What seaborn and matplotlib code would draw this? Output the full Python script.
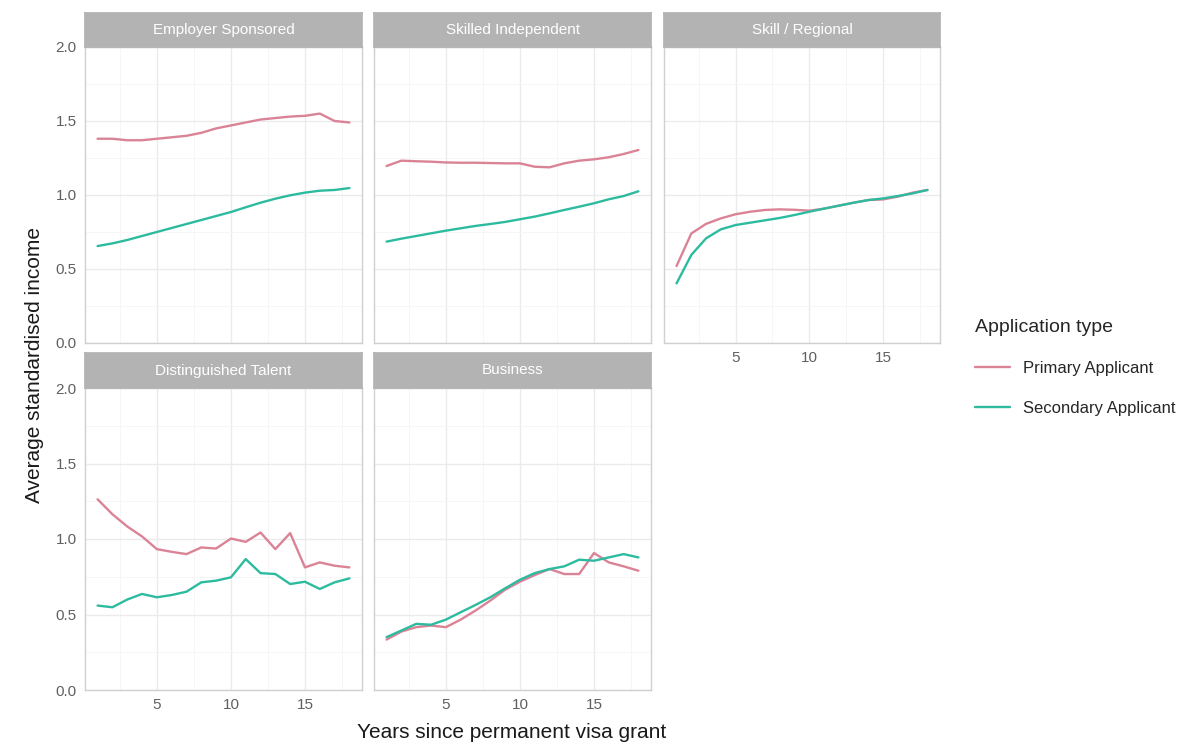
import matplotlib
matplotlib.use("Agg")
import matplotlib.pyplot as plt
import numpy as np
import pandas as pd
import seaborn as sns
from matplotlib.ticker import MultipleLocator, FormatStrFormatter, NullFormatter

# ---------------- data ----------------
years = list(range(1, 19))
panels = ["Employer Sponsored", "Skilled Independent", "Skill / Regional",
          "Distinguished Talent", "Business"]
app_types = ["Primary Applicant", "Secondary Applicant"]

emp_primary = [1.38, 1.38, 1.37, 1.37, 1.38, 1.39, 1.40, 1.42, 1.45, 1.47,
               1.49, 1.51, 1.52, 1.53, 1.535, 1.55, 1.50, 1.49]
emp_secondary = [0.655, 0.673, 0.696, 0.723, 0.75, 0.777, 0.804, 0.831, 0.858, 0.885,
                 0.917, 0.948, 0.975, 0.998, 1.016, 1.029, 1.034, 1.047]

ski_primary = [1.196, 1.232, 1.228, 1.225, 1.22, 1.218, 1.218, 1.216, 1.214, 1.214,
               1.191, 1.187, 1.214, 1.232, 1.241, 1.255, 1.277, 1.304]
ski_secondary = [0.685, 0.705, 0.723, 0.741, 0.759, 0.775, 0.791, 0.804, 0.818, 0.836,
                 0.854, 0.876, 0.899, 0.921, 0.944, 0.971, 0.993, 1.025]

reg_primary = [0.52, 0.74, 0.805, 0.842, 0.870, 0.887, 0.899, 0.903, 0.90, 0.894,
               0.908, 0.928, 0.948, 0.966, 0.970, 0.989, 1.016, 1.034]
reg_secondary = [0.403, 0.595, 0.707, 0.768, 0.797, 0.813, 0.829, 0.845, 0.865, 0.887,
                 0.908, 0.928, 0.948, 0.966, 0.977, 0.993, 1.011, 1.034]

dt_primary = [1.263, 1.164, 1.083, 1.017, 0.933, 0.915, 0.90, 0.944, 0.937, 1.003,
              0.981, 1.043, 0.933, 1.039, 0.812, 0.845, 0.823, 0.812]
dt_secondary = [0.559, 0.548, 0.599, 0.636, 0.614, 0.629, 0.651, 0.713, 0.724, 0.746,
                0.867, 0.774, 0.768, 0.702, 0.717, 0.669, 0.713, 0.739]

bus_primary = [0.334, 0.387, 0.416, 0.427, 0.416, 0.466, 0.526, 0.592, 0.664, 0.717,
               0.761, 0.801, 0.768, 0.768, 0.907, 0.845, 0.819, 0.790]
bus_secondary = [0.350, 0.394, 0.438, 0.432, 0.466, 0.515, 0.563, 0.614, 0.673, 0.730,
                 0.774, 0.801, 0.819, 0.863, 0.856, 0.878, 0.900, 0.878]

series = {
    panels[0]: (emp_primary, emp_secondary),
    panels[1]: (ski_primary, ski_secondary),
    panels[2]: (reg_primary, reg_secondary),
    panels[3]: (dt_primary, dt_secondary),
    panels[4]: (bus_primary, bus_secondary),
}

rows = []
for p, (prim, sec) in series.items():
    for y, v in zip(years, prim):
        rows.append((p, app_types[0], y, v))
    for y, v in zip(years, sec):
        rows.append((p, app_types[1], y, v))
df = pd.DataFrame(rows, columns=["panel", "type", "year", "income"])

# ---------------- style ----------------
sns.set_theme(style="white")
plt.rcParams["font.family"] = ["Liberation Sans", "DejaVu Sans"]

palette = {app_types[0]: "#DB8396", app_types[1]: "#2DBBA0"}

W, H = 1202, 747
fig = plt.figure(figsize=(W / 100, H / 100), dpi=100)

cols = [(85, 362), (374, 651), (664, 940)]
rows_px = [((13, 47), (47, 343)), ((353, 388), (388, 690))]

positions = [(0, 0), (0, 1), (0, 2), (1, 0), (1, 1)]
handles = labels = None
for i, p in enumerate(panels):
    r, c = positions[i]
    (sy0, sy1), (py0, py1) = rows_px[r]
    x0, x1 = cols[c]
    ax = fig.add_axes([x0 / W, 1 - py1 / H, (x1 - x0) / W, (py1 - py0) / H])
    sub = df[df["panel"] == p]
    sns.lineplot(data=sub, x="year", y="income", hue="type", hue_order=app_types,
                 palette=palette, linewidth=1.7, ax=ax, legend=(i == 0))
    if i == 0:
        handles, labels = ax.get_legend_handles_labels()
        ax.get_legend().remove()
    ax.xaxis.set_major_locator(MultipleLocator(5))
    ax.xaxis.set_minor_locator(MultipleLocator(2.5))
    ax.yaxis.set_major_locator(MultipleLocator(0.5))
    ax.yaxis.set_minor_locator(MultipleLocator(0.25))
    ax.grid(which="major", color="#EBEBEB", linewidth=1.0)
    ax.grid(which="minor", color="#F5F5F5", linewidth=0.6)
    ax.set_axisbelow(True)
    for s in ax.spines.values():
        s.set_color("#D0D0D0")
        s.set_linewidth(1.0)
    ax.tick_params(which="both", length=0, labelsize=11, labelcolor="#606060", pad=6)
    ax.set_xlabel("")
    ax.set_ylabel("")
    if c != 0:
        ax.yaxis.set_major_formatter(NullFormatter())
    else:
        ax.yaxis.set_major_formatter(FormatStrFormatter("%.1f"))
    if not (r == 1 or (r == 0 and c == 2)):
        ax.xaxis.set_major_formatter(NullFormatter())
    else:
        ax.xaxis.set_major_formatter(FormatStrFormatter("%d"))
    ax.set_xlim(0.15, 18.85)
    ax.set_ylim(0, 2.0)
    # strip
    sax = fig.add_axes([x0 / W, 1 - sy1 / H, (x1 - x0) / W, (sy1 - sy0) / H])
    sax.set_facecolor("#B3B3B3")
    sax.set_xticks([])
    sax.set_yticks([])
    for s in sax.spines.values():
        s.set_color("#B3B3B3")
    sax.text(0.5, 0.5, p, ha="center", va="center", color="white", fontsize=11,
             transform=sax.transAxes)

fig.text(512 / W, 1 - 733 / H, "Years since permanent visa grant",
         ha="center", va="center", fontsize=15, color="#1A1A1A")
fig.text(35 / W, 1 - 365 / H, "Average standardised income",
         ha="center", va="center", rotation=90, fontsize=15, color="#1A1A1A")

leg = fig.legend(handles, labels, title="Application type", loc="upper left",
                 bbox_to_anchor=(960 / W, 1 - 304 / H), frameon=False,
                 fontsize=12, title_fontsize=14, handlelength=2.1,
                 handletextpad=0.8, labelspacing=1.5, alignment="left")

fig.savefig("out.png", dpi=100)
